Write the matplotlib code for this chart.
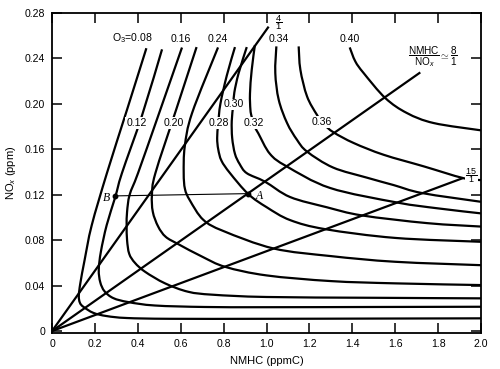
import matplotlib
matplotlib.use('Agg')
import matplotlib.pyplot as plt
from matplotlib.path import Path
from matplotlib.patches import PathPatch

plt.rcParams['font.family'] = ['Liberation Sans', 'DejaVu Sans']
plt.rcParams['mathtext.fontset'] = 'custom'
plt.rcParams['mathtext.rm'] = 'Liberation Sans'
plt.rcParams['mathtext.it'] = 'Liberation Sans:italic'
plt.rcParams['mathtext.bf'] = 'Liberation Sans:bold'

# ---- data (NMHC ppmC, NOx ppm) ----
nmhc_008 = [0.44, 0.35, 0.256, 0.185, 0.152, 0.132, 0.125, 0.130, 0.146, 0.193, 0.255, 0.348, 0.55, 1.0, 1.5, 2.0]
nox_008 = [0.249, 0.195, 0.139, 0.093, 0.0625, 0.042, 0.031, 0.025, 0.0214, 0.0160, 0.0132, 0.0115, 0.0108, 0.0108, 0.0110, 0.0112]

nmhc_012 = [0.513, 0.42, 0.326, 0.295, 0.255, 0.228, 0.218, 0.225, 0.245, 0.286, 0.356, 0.48, 0.713, 1.0, 1.5, 2.0]
nox_012 = [0.248, 0.19, 0.139, 0.118, 0.0933, 0.070, 0.054, 0.043, 0.035, 0.029, 0.0255, 0.0225, 0.0212, 0.0210, 0.0212, 0.0214]

nmhc_016 = [0.606, 0.496, 0.401, 0.362, 0.350, 0.348, 0.350, 0.360, 0.387, 0.434, 0.527, 0.635, 0.75, 1.0, 1.5, 2.0]
nox_016 = [0.2496, 0.19, 0.139, 0.12, 0.105, 0.093, 0.080, 0.068, 0.060, 0.0522, 0.042, 0.0346, 0.032, 0.030, 0.0293, 0.0288]

nmhc_020 = [0.674, 0.579, 0.482, 0.466, 0.470, 0.495, 0.530, 0.589, 0.70, 0.808, 1.0, 1.3, 1.6, 2.0]
nox_020 = [0.250, 0.195, 0.139, 0.12, 0.105, 0.092, 0.083, 0.0765, 0.0655, 0.0565, 0.049, 0.044, 0.042, 0.0405]

nmhc_024 = [0.774, 0.653, 0.619, 0.614, 0.620, 0.643, 0.705, 0.80, 1.033, 1.3, 1.6, 2.0]
nox_024 = [0.2497, 0.1919, 0.1626, 0.139, 0.125, 0.115, 0.098, 0.088, 0.0727, 0.066, 0.061, 0.058]

nmhc_028 = [0.853, 0.815, 0.785, 0.775, 0.770, 0.775, 0.790, 0.83, 0.915, 1.001, 1.11, 1.274, 1.6, 2.0]
nox_028 = [0.250, 0.225, 0.200, 0.183, 0.170, 0.160, 0.150, 0.139, 0.1206, 0.109, 0.0977, 0.0897, 0.082, 0.0786]

nmhc_030 = [0.908, 0.87, 0.85, 0.845, 0.838, 0.84, 0.853, 0.875, 0.908, 0.993, 1.11, 1.281, 1.445, 1.75, 2.0]
nox_030 = [0.250, 0.227, 0.21, 0.199, 0.185, 0.170, 0.156, 0.147, 0.139, 0.1315, 0.118, 0.109, 0.1018, 0.095, 0.092]

nmhc_032 = [0.946, 0.931, 0.923, 0.925, 0.931, 0.945, 0.962, 1.016, 1.094, 1.296, 1.608, 1.8, 2.0]
nox_032 = [0.2518, 0.2298, 0.209, 0.195, 0.1886, 0.180, 0.174, 0.156, 0.145, 0.126, 0.1132, 0.108, 0.1036]

nmhc_034 = [1.046, 1.041, 1.057, 1.096, 1.142, 1.189, 1.31, 1.469, 1.593, 1.725, 2.0]
nox_034 = [0.2506, 0.2271, 0.2036, 0.1831, 0.1684, 0.158, 0.144, 0.135, 0.1285, 0.1215, 0.1138]

nmhc_036 = [1.150, 1.158, 1.189, 1.235, 1.268, 1.313, 1.407, 1.546, 1.733, 1.916, 2.0]
nox_036 = [0.2506, 0.2300, 0.2066, 0.1904, 0.182, 0.1749, 0.1655, 0.1552, 0.1450, 0.1347, 0.1329]

nmhc_040 = [1.388, 1.414, 1.453, 1.554, 1.655, 1.780, 2.0]
nox_040 = [0.2497, 0.2374, 0.2271, 0.2051, 0.1919, 0.1831, 0.1767]

o3_levels = ['0.08', '0.12', '0.16', '0.20', '0.24', '0.28', '0.30', '0.32', '0.34', '0.36', '0.40']

# NMHC/NOx ratio lines (start at origin, end points)
ratio_names = ['4', '8', '15']
ratio_end_nmhc = [1.01, 1.717, 1.916]
ratio_end_nox = [0.268, 0.2277, 0.1347]

# points B and A
pt_names = ['B', 'A']
pt_nmhc = [0.295, 0.915]
pt_nox = [0.119, 0.121]

xticks = [0, 0.2, 0.4, 0.6, 0.8, 1.0, 1.2, 1.4, 1.6, 1.8, 2.0]
xticklabels = ['0', '0.2', '0.4', '0.6', '0.8', '1.0', '1.2', '1.4', '1.6', '1.8', '2.0']
yticks = [0, 0.04, 0.08, 0.12, 0.16, 0.20, 0.24, 0.28]
yticklabels = ['0', '0.04', '0.08', '0.12', '0.16', '0.20', '0.24', '0.28']

curves = [(nmhc_008, nox_008), (nmhc_012, nox_012), (nmhc_016, nox_016), (nmhc_020, nox_020),
          (nmhc_024, nox_024), (nmhc_028, nox_028), (nmhc_030, nox_030), (nmhc_032, nox_032),
          (nmhc_034, nox_034), (nmhc_036, nox_036), (nmhc_040, nox_040)]

XMAX, YMAX = 2.0, 0.28


def smooth_path(xs, ys, t=0.5):
    """Catmull-Rom style Bezier path through the read points (rendering only)."""
    px = [x / XMAX for x in xs]
    py = [y / YMAX for y in ys]
    n = len(px)
    verts = [(xs[0], ys[0])]
    codes = [Path.MOVETO]
    for i in range(n - 1):
        p0 = (px[i - 1], py[i - 1]) if i > 0 else (px[i], py[i])
        p1 = (px[i], py[i])
        p2 = (px[i + 1], py[i + 1])
        p3 = (px[i + 2], py[i + 2]) if i + 2 < n else p2
        c1 = (p1[0] + (p2[0] - p0[0]) * t / 3, p1[1] + (p2[1] - p0[1]) * t / 3)
        c2 = (p2[0] - (p3[0] - p1[0]) * t / 3, p2[1] - (p3[1] - p1[1]) * t / 3)
        for c in (c1, c2, p2):
            verts.append((c[0] * XMAX, c[1] * YMAX))
            codes.append(Path.CURVE4)
    return Path(verts, codes)


fig = plt.figure(figsize=(5.0, 3.69), dpi=100)
ax = fig.add_axes([52 / 500, 36 / 369, 429 / 500, 320 / 369])
ax.set_xlim(0, XMAX)
ax.set_ylim(-0.0017, YMAX)

lw = 1.6
for xs, ys in curves:
    ax.add_patch(PathPatch(smooth_path(xs, ys), facecolor='none', edgecolor='black', lw=lw,
                           capstyle='butt', joinstyle='round', zorder=2))

for ex, ey in zip(ratio_end_nmhc, ratio_end_nox):
    ax.plot([0, ex], [0, ey], color='black', lw=lw, solid_capstyle='butt', zorder=2)

ax.plot(pt_nmhc, pt_nox, color='black', lw=0.8, zorder=2)
ax.plot(pt_nmhc, pt_nox, 'o', color='black', ms=3.2, zorder=3)

fs = 7.6
lab_kw = dict(fontsize=fs, ha='center', va='center', zorder=4)
box = dict(facecolor='white', edgecolor='none', pad=0.6)
ytop = 0.2575
# labels at top of curves
ax.text(0.373, ytop, r'O$_3$=' + o3_levels[0], **lab_kw)
ax.text(0.601, ytop, o3_levels[2], **lab_kw)
ax.text(0.775, ytop, o3_levels[4], **lab_kw)
ax.text(1.058, ytop, o3_levels[8], **lab_kw)
ax.text(1.388, ytop, o3_levels[10], **lab_kw)
# labels placed on curves (gap)
ax.text(0.394, 0.183, o3_levels[1], bbox=box, **lab_kw)
ax.text(0.568, 0.183, o3_levels[3], bbox=box, **lab_kw)
ax.text(0.778, 0.183, o3_levels[5], bbox=box, **lab_kw)
ax.text(0.847, 0.1995, o3_levels[6], bbox=box, **lab_kw)
ax.text(0.943, 0.183, o3_levels[7], bbox=box, **lab_kw)
ax.text(1.259, 0.184, o3_levels[9], bbox=box, **lab_kw)

# ratio labels
ax.text(1.055, 0.2715, r'$\dfrac{4}{1}$', fontsize=6.8, ha='center', va='center')
ax.text(1.775, 0.2415, r'$\dfrac{\mathrm{NMHC}}{\mathrm{NO}_x}\simeq\dfrac{8}{1}$', fontsize=7.2,
        ha='center', va='center')
ax.text(1.955, 0.1365, r'$\dfrac{15}{1}$', fontsize=6.5, ha='center', va='center',
        bbox=dict(facecolor='white', edgecolor='none', pad=0.2))

ax.text(0.256, 0.1175, pt_names[0], fontsize=8.5, family='Liberation Serif', style='italic',
        ha='center', va='center')
ax.text(0.965, 0.119, pt_names[1], fontsize=8.5, family='Liberation Serif', style='italic',
        ha='center', va='center')

ax.set_xticks(xticks)
ax.set_xticklabels(xticklabels)
ax.set_yticks(yticks)
ax.set_yticklabels(yticklabels)
ax.tick_params(direction='in', length=7, width=1.1, labelsize=7.6, top=True, right=True,
               labeltop=False, labelright=False)
ax.tick_params(axis='x', pad=4.5)
ax.tick_params(axis='y', pad=5)
for s in ax.spines.values():
    s.set_linewidth(1.3)

ax.set_xlabel('NMHC (ppmC)', fontsize=8, labelpad=5)
ax.set_ylabel(r'NO$_x$ (ppm)', fontsize=8, labelpad=5)

fig.savefig('out.png', dpi=100)
